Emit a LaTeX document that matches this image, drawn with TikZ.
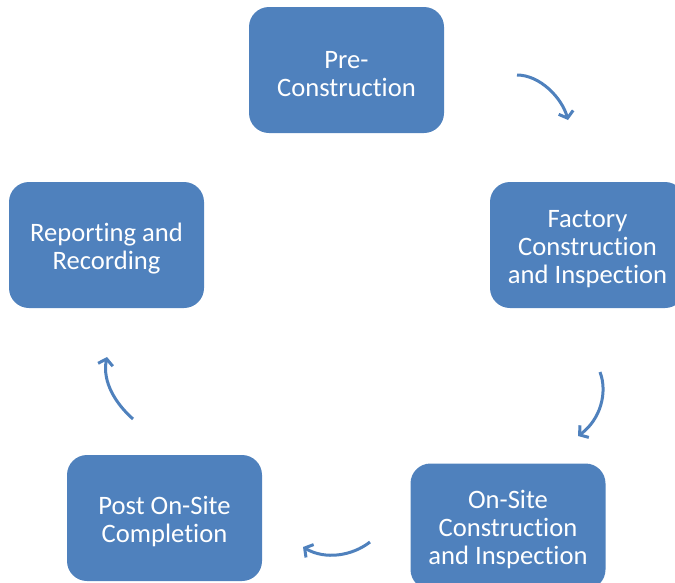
\documentclass[tikz,border=0pt]{standalone}
\usepackage{fontspec}
\setmainfont[Ligatures={NoCommon}]{Carlito}
\usetikzlibrary{arrows.meta}
\definecolor{ofblue}{HTML}{4F81BD}
\newcommand{\topgap}{\rule{0pt}{25pt}}
\tikzset{
  stage/.style={draw=none, fill=ofblue, rounded corners=20pt, minimum width=195pt,
    minimum height=126pt, text=white, align=center, inner sep=0pt,
    font=\fontsize{26.6}{28}\selectfont},
  cyc/.style={draw=ofblue, line width=3pt, -{Straight Barb[length=6pt,width=15pt,line width=3pt]}}
}
\begin{document}
\begin{tikzpicture}[x=1pt,y=-1pt]
\useasboundingbox (0,0) rectangle (675,582);
\node[stage] (pre) at (346.5,70) {\topgap Pre-\\Construction};
\node[stage] (fac) at (587.5,245) {\topgap Factory\\Construction\\and Inspection};
\node[stage] (ons) at (508,526.5) {\topgap On-Site\\Construction\\and Inspection};
\node[stage] (pos) at (164.5,518) {\topgap Post On-Site\\Completion};
\node[stage] (rep) at (106.5,245) {\topgap Reporting and\\Recording};
\coordinate (a1s) at (517,75);  \coordinate (a1e) at (568,120);
\coordinate (a2s) at (600,372); \coordinate (a2e) at (578,436);
\coordinate (a3s) at (370,542); \coordinate (a3e) at (303,547);
\coordinate (a4s) at (133,419); \coordinate (a4e) at (107,357);
\draw[cyc] (a1s) .. controls (540,75) and (562,98) .. (a1e);
\draw[cyc] (a2s) .. controls (608,393) and (600,420) .. (a2e);
\draw[cyc] (a3s) .. controls (352,556) and (325,560) .. (a3e);
\draw[cyc] (a4s) .. controls (116,404) and (102,382) .. (a4e);
\end{tikzpicture}
\end{document}
